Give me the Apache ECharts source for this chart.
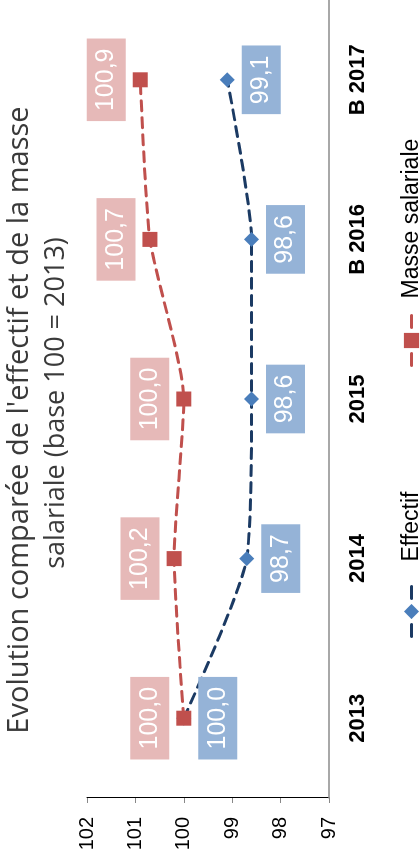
<!DOCTYPE html>
<html>
<head>
<meta charset="utf-8">
<script src="https://cdn.jsdelivr.net/npm/echarts@6/dist/echarts.min.js"></script>
<style>
  html, body { margin: 0; padding: 0; background: #fff; overflow: hidden; }
  body { width: 420px; height: 859px; position: relative; }
  /* the chart is laid out landscape and turned a quarter turn to read upward */
  #chart {
    position: absolute; left: 0; top: 0;
    width: 859px; height: 420px;
    transform-origin: 0 0;
    transform: translateY(859px) rotate(-90deg);
  }
</style>
</head>
<body>
<div id="chart"></div>
<script>
const categories = ['2013', '2014', '2015', 'B 2016', 'B 2017'];
const effectif = [100.0, 98.7, 98.6, 98.6, 99.1];
const masseSalariale = [100.0, 100.2, 100.0, 100.7, 100.9];
const valueTicks = [97, 98, 99, 100, 101, 102];
const titleLines = [
  "Evolution comparée de l'effectif et de la masse",
  "salariale (base 100 = 2013)"
];

const NARROW = "'Liberation Sans Narrow', 'Arial Narrow', 'Liberation Sans', Arial, sans-serif";
const TITLE_FONT = "'Open Sans', 'DejaVu Sans', sans-serif";
const BLUE_LINE = '#1B3A63', BLUE_MARK = '#4A7EBB', BLUE_BOX = '#95B3D7';
const RED = '#C0504D', RED_BOX = '#E6B9B8';
const fmt = v => v.toFixed(1).replace('.', ',');

const chart = echarts.init(document.getElementById('chart'), null, { renderer: 'canvas' });

function dataLabel(bg, pos) {
  return {
    show: true,
    position: pos,
    distance: 7,
    formatter: p => fmt(p.value),
    color: '#fff',
    fontFamily: NARROW,
    fontSize: 25,
    lineHeight: 29,
    backgroundColor: bg,
    padding: [5, 10]
  };
}

function legendFor(name, left, lineColor, textGap) {
  return {
    data: [name],
    left: left, top: 395,
    itemWidth: 50, itemHeight: 19,
    lineStyle: { color: lineColor, width: 3, type: [12, 26], cap: 'round' },
    textStyle: { fontFamily: NARROW, fontSize: 23, color: '#000', padding: [0, 0, 0, textGap] }
  };
}

function titleLine(text, centerX, top, size) {
  return {
    text: text,
    left: centerX,
    top: top,
    textAlign: 'center',
    padding: 0,
    textStyle: { fontFamily: TITLE_FONT, fontWeight: 'normal', fontSize: size, lineHeight: 36, color: '#3a3a3a' }
  };
}

chart.setOption({
  animation: false,
  backgroundColor: '#fff',
  title: [
    titleLine(titleLines[0], 439, 2, 29),
    titleLine(titleLines[1], 456, 38, 27)
  ],
  legend: [
    legendFor('Effectif', 216, BLUE_LINE, 20),
    legendFor('Masse salariale', 487, RED, 12)
  ],
  grid: { left: 61, right: -5, top: 87, bottom: 91, containLabel: false },
  xAxis: {
    type: 'category',
    data: categories,
    boundaryGap: true,
    axisLine: { show: true, lineStyle: { color: '#8c8c8c', width: 1.5 } },
    axisTick: { show: false },
    axisLabel: { fontFamily: NARROW, fontWeight: 'bold', fontSize: 22, color: '#000', margin: 18 },
    splitLine: { show: false }
  },
  yAxis: {
    type: 'value',
    min: valueTicks[0],
    max: valueTicks[valueTicks.length - 1],
    interval: 1,
    axisLine: { show: true, lineStyle: { color: '#000', width: 1 } },
    axisTick: { show: true, length: 5, lineStyle: { color: '#888' } },
    axisLabel: { fontFamily: NARROW, fontSize: 20, color: '#000', margin: 19 },
    splitLine: { show: false }
  },
  series: [
    {
      name: 'Effectif',
      type: 'line',
      data: effectif,
      smooth: 0.2,
      symbol: 'diamond',
      symbolSize: 15,
      itemStyle: { color: BLUE_MARK },
      lineStyle: { color: BLUE_LINE, width: 3, type: [10, 7], cap: 'round' },
      label: dataLabel(BLUE_BOX, 'bottom'),
      z: 2
    },
    {
      name: 'Masse salariale',
      type: 'line',
      data: masseSalariale,
      smooth: 0.2,
      symbol: 'rect',
      symbolSize: 15,
      itemStyle: { color: RED },
      lineStyle: { color: RED, width: 3, type: [10, 7], cap: 'round' },
      label: dataLabel(RED_BOX, 'top'),
      z: 3
    }
  ]
});
</script>
</body>
</html>
